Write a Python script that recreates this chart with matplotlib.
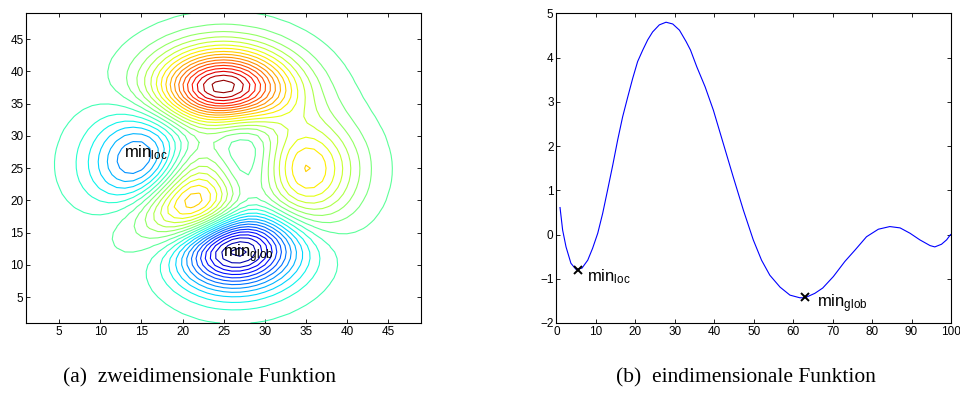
import numpy as np
import matplotlib
matplotlib.use("Agg")
import matplotlib.pyplot as plt

plt.rcParams['font.family'] = ['Liberation Sans', 'DejaVu Sans']
plt.rcParams['mathtext.default'] = 'regular'

# ---- left panel: MATLAB peaks surface sampled on a 49x49 grid ----
grid_n = 49
grid_lo, grid_hi = -3.0, 3.0
level_step = 0.474
level_index = list(range(-14, 17))          # levels at (k + 0.5) * step
left_ticks = [5, 10, 15, 20, 25, 30, 35, 40, 45]

# ---- right panel: values ----
curve_x = [0.94, 1.6, 2.46, 3.7, 5.0, 6.5, 7.96, 9.2, 10.5, 11.75, 13.0, 14.3,
           15.55, 16.8, 18.1, 19.35, 20.6, 21.9, 23.15, 24.4, 26.1, 27.8, 29.5,
           31.2, 32.9, 34.0, 35.6, 37.7, 39.8, 42.3, 44.8, 47.4, 49.9, 52.0,
           54.1, 56.7, 59.2, 61.7, 63.0, 65.5, 67.5, 70.2, 73.1, 75.7, 78.6,
           81.6, 84.5, 87.1, 89.6, 92.1, 94.7, 95.9, 97.6, 98.9, 99.9]
curve_y = [0.61, 0.10, -0.28, -0.65, -0.79, -0.76, -0.58, -0.31, 0.03, 0.48,
           1.01, 1.57, 2.14, 2.66, 3.11, 3.53, 3.91, 4.17, 4.40, 4.58, 4.74,
           4.80, 4.76, 4.62, 4.36, 4.17, 3.79, 3.34, 2.81, 2.06, 1.31, 0.55,
           -0.12, -0.58, -0.92, -1.19, -1.37, -1.43, -1.43, -1.33, -1.21,
           -0.95, -0.61, -0.35, -0.05, 0.12, 0.18, 0.15, 0.03, -0.12, -0.25,
           -0.28, -0.22, -0.12, 0.0]
min_loc = (5.4, -0.81)
min_glob = (63.0, -1.42)
right_xticks = [0, 10, 20, 30, 40, 50, 60, 70, 80, 90, 100]
right_yticks = [-2, -1, 0, 1, 2, 3, 4, 5]

captions = ["(a)  zweidimensionale Funktion", "(b)  eindimensionale Funktion"]

fig = plt.figure(figsize=(9.6, 4.05), dpi=100)
ax1 = fig.add_axes([0.0274, 0.2025, 0.4111, 0.7645])
ax2 = fig.add_axes([0.5795, 0.2025, 0.4111, 0.7645])

t = np.linspace(grid_lo, grid_hi, grid_n)
X, Y = np.meshgrid(t, t)
Z = (3 * (1 - X) ** 2 * np.exp(-X ** 2 - (Y + 1) ** 2)
     - 10 * (X / 5 - X ** 3 - Y ** 5) * np.exp(-X ** 2 - Y ** 2)
     - 1 / 3 * np.exp(-(X + 1) ** 2 - Y ** 2))
idx = np.arange(1, grid_n + 1)
levels = (np.array(level_index) + 0.5) * level_step
ax1.contour(idx, idx, Z, levels=levels, cmap='jet', vmin=Z.min(), vmax=Z.max(),
            linewidths=0.8)
ax1.set_xlim(1, grid_n)
ax1.set_ylim(1, grid_n)
ax1.set_xticks(left_ticks)
ax1.set_yticks(left_ticks)
ax1.text(12.9, 26.65, 'min$_{loc}$', fontsize=12, va='baseline', ha='left')
ax1.text(24.9, 11.15, 'min$_{glob}$', fontsize=12, va='baseline', ha='left')

ax2.plot(curve_x, curve_y, color='#0000ff', lw=0.8)
ax2.plot([min_loc[0], min_glob[0]], [min_loc[1], min_glob[1]], 'x', color='black',
         ms=6, mew=1.4)
ax2.text(7.85, -1.05, 'min$_{loc}$', fontsize=12, va='baseline', ha='left')
ax2.text(66.0, -1.65, 'min$_{glob}$', fontsize=12, va='baseline', ha='left')
ax2.set_xlim(0, 100)
ax2.set_ylim(-2, 5)
ax2.set_xticks(right_xticks)
ax2.set_yticks(right_yticks)

for ax in (ax1, ax2):
    ax.tick_params(direction='in', top=True, right=True, length=3, width=0.6,
                   labelsize=8.5, pad=2)
    for s in ax.spines.values():
        s.set_linewidth(0.8)

fig.text(0.2083, 0.0667, captions[0], ha='center', va='center', fontsize=15.5,
         family=['Liberation Serif', 'DejaVu Serif'])
fig.text(0.7771, 0.0667, captions[1], ha='center', va='center', fontsize=15.5,
         family=['Liberation Serif', 'DejaVu Serif'])

fig.savefig('out.png', dpi=100)
